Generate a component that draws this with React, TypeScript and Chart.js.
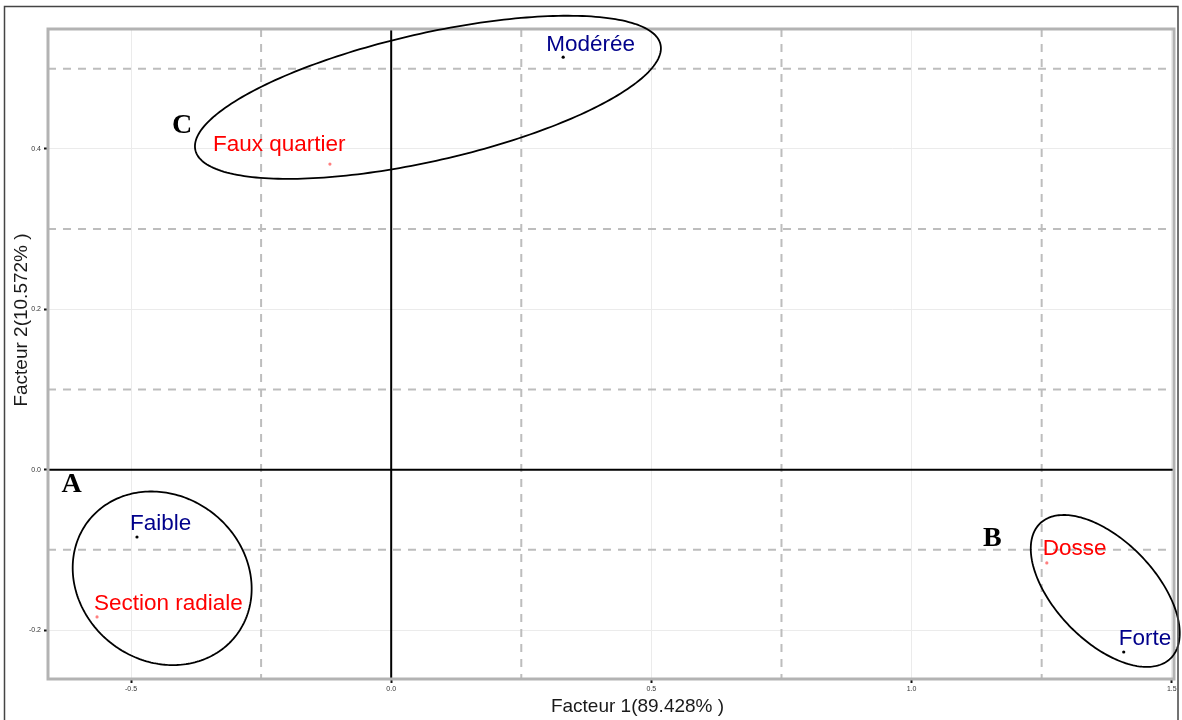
import React, { useEffect, useRef } from "react";
import { Chart, registerables } from "chart.js";

Chart.register(...registerables);

// ---- Data ----
// Intensité (blue labels)
const intensityLabels = ["Modérée", "Faible", "Forte"];
const intensityF1 = [0.3305, -0.4885, 1.4077];
const intensityF2 = [0.5144, -0.084, -0.2274];

// Type de débit (red labels)
const debitLabels = ["Faux quartier", "Section radiale", "Dosse"];
const debitF1 = [-0.1177, -0.5653, 1.2599];
const debitF2 = [0.3811, -0.1837, -0.1164];

const xTicks = [-0.5, 0, 0.5, 1.0, 1.5];
const yTicks = [-0.2, 0, 0.2, 0.4];
const xDashed = [-0.25, 0.25, 0.75, 1.25];
const yDashed = [-0.1, 0.1, 0.3, 0.5];

const xTitle = "Facteur 1(89.428% )";
const yTitle = "Facteur 2(10.572% )";

// Groups (ellipses)
const groupNames = ["A", "B", "C"];
const groupLetterX = [-0.6143, 1.1551, -0.402];
const groupLetterY = [-0.0278, -0.0952, 0.42];
const ellipseCx = [-0.4401, 1.3722, 0.0706];
const ellipseCy = [-0.1355, -0.1513, 0.4643];
const ellipseMajorX = [0.1424, 0.1253, 0.4469];
const ellipseMajorY = [-0.071, -0.0842, 0.0659];
const ellipseMinorX = [0.0964, 0.0692, -0.0271];
const ellipseMinorY = [0.0817, 0.0434, 0.0775];

// ---- Styles ----
const BLUE = "#00008b";
const RED = "#ff0000";
const intensityOffsets = [
  [-17, -6],
  [-7, -7],
  [-5, -7],
];
const debitOffsets = [
  [-117, -13],
  [-3, -7],
  [-4, -8],
];

const overlayPlugin = {
  id: "overlay",
  beforeDatasetsDraw(chart: any) {
    const { ctx, chartArea: a, scales } = chart;
    const x = scales.x;
    const y = scales.y;
    ctx.save();
    ctx.strokeStyle = "#bdbdbd";
    ctx.lineWidth = 2;
    ctx.setLineDash([8, 7]);
    xDashed.forEach((v) => {
      const px = x.getPixelForValue(v);
      ctx.beginPath();
      ctx.moveTo(px, a.top);
      ctx.lineTo(px, a.bottom);
      ctx.stroke();
    });
    yDashed.forEach((v) => {
      const py = y.getPixelForValue(v);
      ctx.beginPath();
      ctx.moveTo(a.left, py);
      ctx.lineTo(a.right, py);
      ctx.stroke();
    });
    ctx.setLineDash([]);
    ctx.strokeStyle = "#000";
    ctx.lineWidth = 2;
    const x0 = x.getPixelForValue(0);
    const y0 = y.getPixelForValue(0);
    ctx.beginPath();
    ctx.moveTo(x0, a.top);
    ctx.lineTo(x0, a.bottom);
    ctx.moveTo(a.left, y0);
    ctx.lineTo(a.right, y0);
    ctx.stroke();
    ctx.strokeStyle = "#b3b3b3";
    ctx.lineWidth = 3;
    ctx.strokeRect(a.left, a.top, a.right - a.left, a.bottom - a.top);
    ctx.restore();
  },
  afterDraw(chart: any) {
    const { ctx, scales } = chart;
    const x = scales.x;
    const y = scales.y;
    ctx.save();
    // ellipses
    ctx.strokeStyle = "#000";
    ctx.lineWidth = 1.8;
    for (let i = 0; i < groupNames.length; i++) {
      ctx.beginPath();
      const n = 240;
      for (let k = 0; k <= n; k++) {
        const t = (k / n) * Math.PI * 2;
        const vx = ellipseCx[i] + ellipseMajorX[i] * Math.cos(t) + ellipseMinorX[i] * Math.sin(t);
        const vy = ellipseCy[i] + ellipseMajorY[i] * Math.cos(t) + ellipseMinorY[i] * Math.sin(t);
        const px = x.getPixelForValue(vx);
        const py = y.getPixelForValue(vy);
        if (k === 0) ctx.moveTo(px, py);
        else ctx.lineTo(px, py);
      }
      ctx.closePath();
      ctx.stroke();
    }
    // group letters
    ctx.fillStyle = "#000";
    ctx.font = 'bold 28px "Liberation Serif", "DejaVu Serif", serif';
    ctx.textAlign = "center";
    ctx.textBaseline = "alphabetic";
    groupNames.forEach((g, i) => {
      ctx.fillText(g, x.getPixelForValue(groupLetterX[i]), y.getPixelForValue(groupLetterY[i]));
    });
    // point labels
    ctx.font = '22.5px "Liberation Sans", Arial, sans-serif';
    ctx.textAlign = "left";
    ctx.fillStyle = BLUE;
    intensityLabels.forEach((l, i) => {
      ctx.fillText(
        l,
        x.getPixelForValue(intensityF1[i]) + intensityOffsets[i][0],
        y.getPixelForValue(intensityF2[i]) + intensityOffsets[i][1]
      );
    });
    ctx.fillStyle = RED;
    debitLabels.forEach((l, i) => {
      ctx.fillText(
        l,
        x.getPixelForValue(debitF1[i]) + debitOffsets[i][0],
        y.getPixelForValue(debitF2[i]) + debitOffsets[i][1]
      );
    });
    // axis titles
    ctx.fillStyle = "#1a1a1a";
    ctx.font = '19px "Liberation Sans", Arial, sans-serif';
    ctx.textAlign = "center";
    ctx.fillText(xTitle, 637.5, 711.5);
    ctx.save();
    ctx.translate(27, 320);
    ctx.rotate(-Math.PI / 2);
    ctx.fillText(yTitle, 0, 0);
    ctx.restore();
    // outer frame
    ctx.strokeStyle = "#444";
    ctx.lineWidth = 1.5;
    ctx.strokeRect(4.5, 6.5, 1173.5, 730);
    ctx.restore();
  },
};

export default function App() {
  const ref = useRef<HTMLCanvasElement | null>(null);
  useEffect(() => {
    if (!ref.current) return;
    const chart = new Chart(ref.current, {
      type: "scatter",
      data: {
        datasets: [
          {
            label: "Intensité",
            data: intensityF1.map((v, i) => ({ x: v, y: intensityF2[i] })),
            pointRadius: 1.6,
            pointBackgroundColor: "#000",
            pointBorderWidth: 0,
          },
          {
            label: "Débit",
            data: debitF1.map((v, i) => ({ x: v, y: debitF2[i] })),
            pointRadius: 1.6,
            pointBackgroundColor: "#ff7f7f",
            pointBorderWidth: 0,
          },
        ],
      },
      options: {
        animation: false,
        responsive: true,
        maintainAspectRatio: false,
        layout: { padding: { top: 29, right: 8, left: 0, bottom: 0 } },
        plugins: { legend: { display: false }, tooltip: { enabled: false } },
        scales: {
          x: {
            type: "linear",
            min: -0.6595,
            max: 1.5043,
            afterBuildTicks: (s: any) => {
              s.ticks = xTicks.map((v) => ({ value: v }));
            },
            afterFit: (s: any) => {
              s.height = 41;
            },
            border: { display: false },
            grid: { color: "#ebebeb", lineWidth: 1, tickColor: "#111", tickLength: 4, tickWidth: 2 },
            ticks: {
              padding: 2,
              font: { family: "Liberation Sans", size: 7 },
              color: "#333",
              maxRotation: 0,
              callback: (v: any) => Number(v).toFixed(1),
            },
          },
          y: {
            type: "linear",
            min: -0.2611,
            max: 0.5495,
            afterBuildTicks: (s: any) => {
              s.ticks = yTicks.map((v) => ({ value: v }));
            },
            afterFit: (s: any) => {
              s.width = 48;
            },
            border: { display: false },
            grid: { color: "#ebebeb", lineWidth: 1, tickColor: "#111", tickLength: 4, tickWidth: 2 },
            ticks: {
              padding: 3,
              font: { family: "Liberation Sans", size: 7 },
              color: "#333",
              callback: (v: any) => Number(v).toFixed(1),
            },
          },
        },
      },
      plugins: [overlayPlugin],
    } as any);
    return () => chart.destroy();
  }, []);
  return (
    <div style={{ position: "absolute", left: 0, top: 0, width: 1182, height: 720, background: "#fff" }}>
      <canvas ref={ref} />
    </div>
  );
}
